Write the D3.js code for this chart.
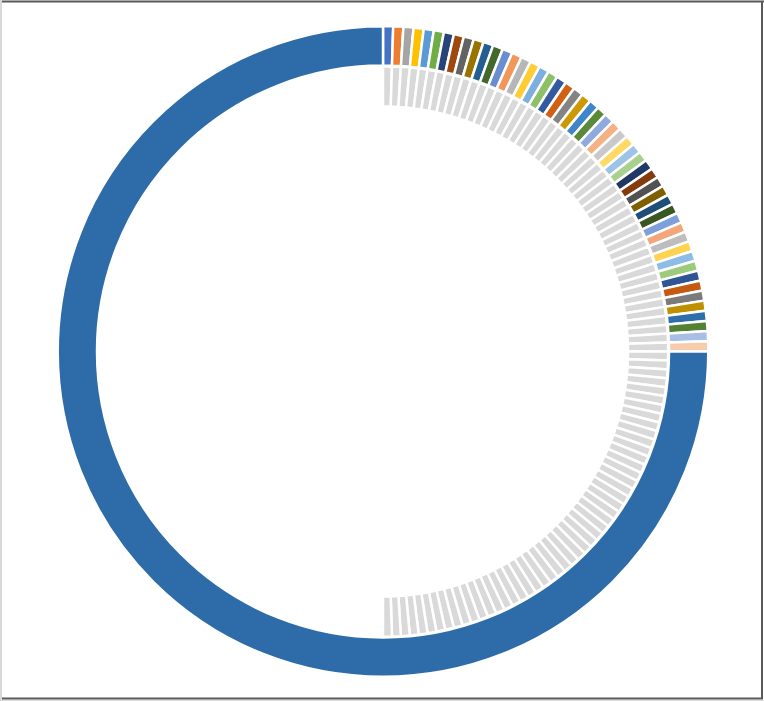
<!DOCTYPE html>
<html><head><meta charset="utf-8">
<script src="https://cdn.jsdelivr.net/npm/d3@7"></script>
<style>html,body{margin:0;padding:0;background:#fff;} svg{display:block;}</style>
</head><body>
<script>
// Outer ring: 50 small segments (one quadrant) followed by one large remainder segment
const outerValues = [
  1,1,1,1,1,1,1,1,1,1,
  1,1,1,1,1,1,1,1,1,1,
  1,1,1,1,1,1,1,1,1,1,
  1,1,1,1,1,1,1,1,1,1,
  1,1,1,1,1,1,1,1,1,1,
  150
];
// Inner ring: 100 grey tick segments (right half) followed by one hidden half
const innerValues = [
  1,1,1,1,1,1,1,1,1,1,
  1,1,1,1,1,1,1,1,1,1,
  1,1,1,1,1,1,1,1,1,1,
  1,1,1,1,1,1,1,1,1,1,
  1,1,1,1,1,1,1,1,1,1,
  1,1,1,1,1,1,1,1,1,1,
  1,1,1,1,1,1,1,1,1,1,
  1,1,1,1,1,1,1,1,1,1,
  1,1,1,1,1,1,1,1,1,1,
  1,1,1,1,1,1,1,1,1,1,
  100
];
const outerColors = [
  '#4472C4','#ED7D31','#A5A5A5','#FFC000','#5B9BD5','#70AD47',
  '#264478','#9E480E','#636363','#997300','#255E91','#43682B',
  '#698ED0','#F1975A','#B7B7B7','#FFCD33','#7CAFDD','#8CC168',
  '#335AA1','#D26012','#848484','#CC9A00','#3C86C9','#5A8A39',
  '#8FAADC','#F4B183','#C9C9C9','#FFD966','#9DC3E6','#A9D18E',
  '#203864','#843C0C','#525252','#7F6000','#1F4E79','#385723',
  '#7F9FDA','#F4A57A','#BDBDBD','#FFD34F','#8DBDE7','#9DCB7E',
  '#2F5597','#C55A11','#7B7B7B','#BF9000','#2E6EAB','#548235',
  '#A9BEE4','#F8CBAD',
  '#2D6CA8'
];
const innerColors = { tick: '#D9D9D9', hidden: 'none' };

const W = 764, H = 701, cx = 383, cy = 351.5;
const svg = d3.select('body').append('svg').attr('width', W).attr('height', H);

// frame
svg.append('line').attr('x1',1).attr('y1',0).attr('x2',1).attr('y2',H).attr('stroke','#d9d9d9').attr('stroke-width',2);
svg.append('line').attr('x1',2).attr('y1',1.5).attr('x2',W).attr('y2',1.5).attr('stroke','#595959').attr('stroke-width',2);
svg.append('line').attr('x1',762).attr('y1',1).attr('x2',762).attr('y2',699).attr('stroke','#595959').attr('stroke-width',2);
svg.append('line').attr('x1',2).attr('y1',698.5).attr('x2',763).attr('y2',698.5).attr('stroke','#595959').attr('stroke-width',2);
svg.append('line').attr('x1',0).attr('y1',700.5).attr('x2',W).attr('y2',700.5).attr('stroke','#d9d9d9').attr('stroke-width',1);

const pie = d3.pie().sort(null).value(d => d);
const innerArc = d3.arc().innerRadius(245).outerRadius(285.2);
const outerArc = d3.arc().innerRadius(286).outerRadius(325.3);

const g = svg.append('g').attr('transform', `translate(${cx},${cy})`);

const lastInner = innerValues.length - 1;
g.append('g').selectAll('path')
  .data(pie(innerValues))
  .join('path')
  .attr('d', innerArc)
  .attr('fill', (d, i) => i === lastInner ? innerColors.hidden : innerColors.tick)
  .attr('stroke', (d, i) => i === lastInner ? 'none' : '#ffffff')
  .attr('stroke-width', 2.5);

g.append('g').selectAll('path')
  .data(pie(outerValues))
  .join('path')
  .attr('d', outerArc)
  .attr('fill', (d, i) => outerColors[i])
  .attr('stroke', '#ffffff')
  .attr('stroke-width', 2.5);
</script>
</body></html>
